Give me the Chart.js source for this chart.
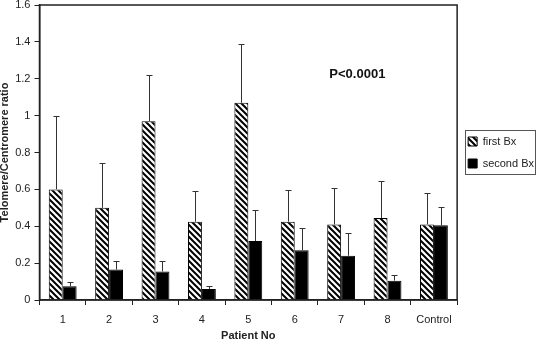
<!DOCTYPE html>
<html>
<head>
<meta charset="utf-8">
<script src="https://cdn.jsdelivr.net/npm/chart.js@4/dist/chart.umd.min.js"></script>
<style>
  html, body { margin: 0; padding: 0; background: #fff; }
  #wrap { width: 537px; height: 347px; }
</style>
</head>
<body>
<div id="wrap"><canvas id="chart"></canvas></div>
<script>
// data
const patients = ['1', '2', '3', '4', '5', '6', '7', '8', 'Control'];
const firstBx = [0.60, 0.50, 0.97, 0.425, 1.07, 0.425, 0.41, 0.445, 0.41];
const firstBxTop = [1.00, 0.745, 1.22, 0.59, 1.39, 0.595, 0.61, 0.645, 0.58];
const secondBx = [0.075, 0.165, 0.155, 0.06, 0.32, 0.27, 0.24, 0.105, 0.405];
const secondBxTop = [0.10, 0.21, 0.21, 0.075, 0.49, 0.39, 0.365, 0.135, 0.505];
const yTicks = [0, 0.2, 0.4, 0.6, 0.8, 1, 1.2, 1.4, 1.6];

const makeHatch = () => {
  const c = document.createElement('canvas');
  c.width = 6; c.height = 6;
  const g = c.getContext('2d');
  g.fillStyle = '#fff';
  g.fillRect(0, 0, 6, 6);
  g.strokeStyle = '#000';
  g.lineWidth = 2;
  g.beginPath();
  g.moveTo(-1, -1); g.lineTo(7, 7);
  g.moveTo(-4, 2); g.lineTo(4, 10);
  g.moveTo(2, -4); g.lineTo(10, 4);
  g.stroke();
  return g.createPattern(c, 'repeat');
};

const errorBars = {
  id: 'errorBars',
  afterDatasetsDraw(chart) {
    const { ctx, scales: { y } } = chart;
    const tops = [firstBxTop, secondBxTop];
    ctx.save();
    ctx.strokeStyle = '#333';
    ctx.lineWidth = 1;
    chart.data.datasets.forEach((ds, i) => {
      const meta = chart.getDatasetMeta(i);
      meta.data.forEach((bar, j) => {
        const x = Math.round(bar.x) + 0.5;
        const yt = Math.round(y.getPixelForValue(tops[i][j])) + 0.5;
        ctx.beginPath();
        ctx.moveTo(x, bar.y);
        ctx.lineTo(x, yt);
        ctx.moveTo(x - 3, yt);
        ctx.lineTo(x + 3, yt);
        ctx.stroke();
      });
    });
    ctx.restore();
  }
};

const frame = {
  id: 'frame',
  afterDraw(chart) {
    const { ctx, chartArea: a, legend, scales: { x, y } } = chart;
    ctx.save();
    ctx.strokeStyle = '#222';
    ctx.lineWidth = 1.5;
    ctx.strokeRect(a.left, a.top, a.right - a.left, a.bottom - a.top);

    // box round the legend items
    const boxes = legend.legendHitBoxes;
    if (boxes && boxes.length) {
      const l = Math.min(...boxes.map(b => b.left)) - 3;
      const t = Math.min(...boxes.map(b => b.top)) - 6;
      const r = 535;
      const btm = Math.max(...boxes.map(b => b.top + b.height)) + 5;
      ctx.lineWidth = 1;
      ctx.strokeStyle = '#555';
      ctx.strokeRect(Math.round(l) + 0.5, Math.round(t) + 0.5, Math.round(r - l), Math.round(btm - t));
    }

    ctx.fillStyle = '#111';
    ctx.font = 'bold 13px "Liberation Sans", Arial, sans-serif';
    ctx.textAlign = 'center';
    ctx.textBaseline = 'middle';
    ctx.fillText('P<0.0001', x.getPixelForValue(6.35), y.getPixelForValue(1.226));
    ctx.restore();
  }
};

Chart.defaults.font.family = '"Liberation Sans", Arial, sans-serif';
Chart.defaults.color = '#222';

new Chart(document.getElementById('chart'), {
  type: 'bar',
  data: {
    labels: patients,
    datasets: [
      {
        label: 'first Bx',
        data: firstBx,
        backgroundColor: makeHatch(),
        borderColor: '#000',
        borderWidth: 1,
        categoryPercentage: 0.6,
        barPercentage: 1.0
      },
      {
        label: 'second Bx',
        data: secondBx,
        backgroundColor: '#000',
        borderColor: '#000',
        borderWidth: 1,
        categoryPercentage: 0.6,
        barPercentage: 1.0
      }
    ]
  },
  options: {
    responsive: true,
    maintainAspectRatio: false,
    animation: false,
    layout: { padding: { top: 0, right: -7, left: -2, bottom: 2 } },
    plugins: {
      legend: {
        position: 'right',
        fullSize: false,
        labels: {
          boxWidth: 9,
          boxHeight: 9,
          padding: 11,
          font: { size: 11 },
          color: '#222'
        }
      },
      tooltip: { enabled: false }
    },
    scales: {
      x: {
        grid: { drawOnChartArea: false, tickLength: 5, color: '#222', offset: true },
        border: { color: '#222', width: 1.5 },
        ticks: { font: { size: 11 }, padding: 8, color: '#222' },
        title: { display: true, text: 'Patient No', font: { size: 11, weight: 'bold' }, padding: { top: 0, bottom: 2 }, color: '#222' },
        afterFit: (axis) => { axis.height = 45; }
      },
      y: {
        min: 0,
        max: 1.6,
        afterBuildTicks: (axis) => { axis.ticks = yTicks.map(v => ({ value: v })); },
        afterFit: (axis) => { axis.paddingTop = 5; },
        grid: { drawOnChartArea: false, tickLength: 5, color: '#222' },
        border: { color: '#222', width: 1.5 },
        ticks: { font: { size: 11 }, padding: 4, color: '#222', callback: (v) => String(+v.toFixed(1)) },
        title: { display: true, text: 'Telomere/Centromere ratio', font: { size: 11, weight: 'bold' }, padding: 0, color: '#222' }
      }
    }
  },
  plugins: [errorBars, frame]
});
</script>
</body>
</html>
